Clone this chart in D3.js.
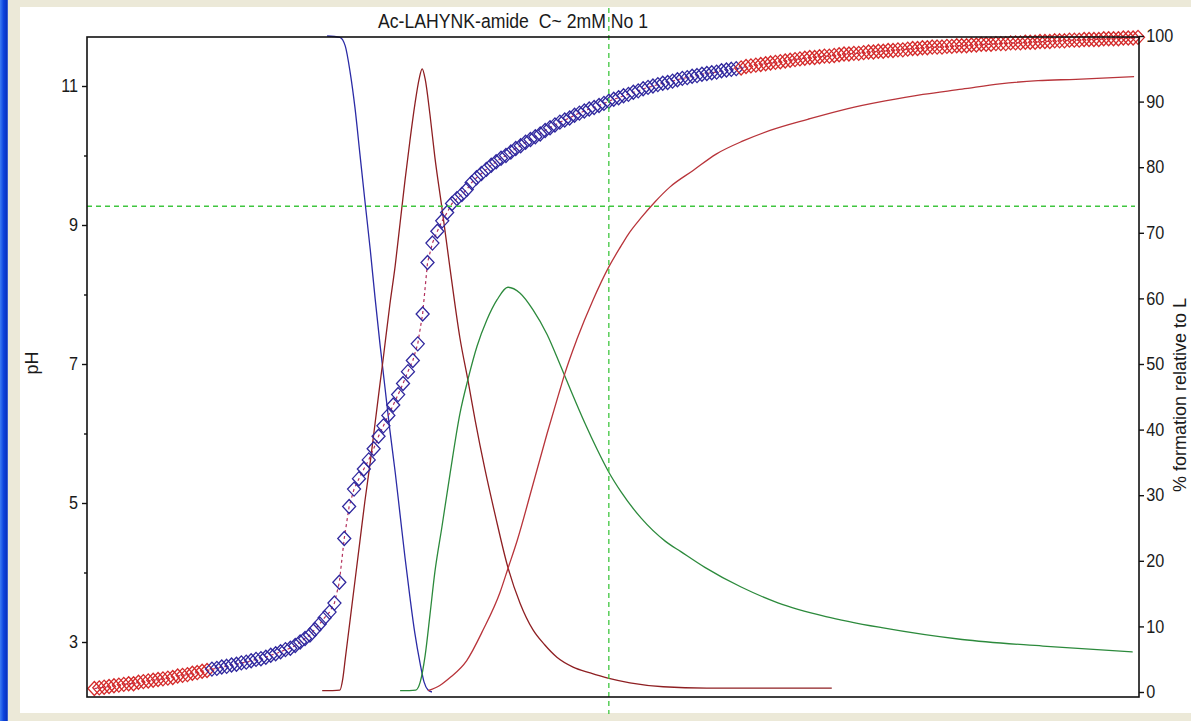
<!DOCTYPE html>
<html>
<head>
<meta charset="utf-8">
<script src="https://cdn.jsdelivr.net/npm/d3@7"></script>
<style>
    html, body { margin: 0; padding: 0; background: #ece9d8; }
    svg { display: block; font-family: "Liberation Sans", Arial, sans-serif; }
</style>
</head>
<body>
<svg id="chart" width="1191" height="721"></svg>
<script>
// titration points (point number = position along the titration), measured pH
const pHValues = [
    2.33, 2.34, 2.35, 2.36, 2.37, 2.38, 2.39, 2.40, 2.40, 2.42,
    2.43, 2.44, 2.45, 2.46, 2.47, 2.48, 2.49, 2.51, 2.52, 2.53,
    2.55, 2.56, 2.58, 2.59, 2.61, 2.62, 2.64, 2.65, 2.67, 2.68,
    2.70, 2.71, 2.73, 2.75, 2.76, 2.78, 2.81, 2.83, 2.86, 2.89,
    2.91, 2.95, 3.00, 3.05, 3.10, 3.18, 3.26, 3.35, 3.43, 3.56,
    3.86, 4.49, 4.95, 5.20, 5.35, 5.49, 5.62, 5.78, 5.96, 6.11,
    6.26, 6.41, 6.56, 6.72, 6.89, 7.05, 7.29, 7.72, 8.46, 8.74,
    8.91, 9.06, 9.18, 9.31, 9.38, 9.44, 9.51, 9.61, 9.68, 9.74,
    9.80, 9.86, 9.91, 9.96, 10.00, 10.05, 10.10, 10.14, 10.19, 10.23,
    10.27, 10.31, 10.36, 10.40, 10.44, 10.48, 10.51, 10.54, 10.58, 10.61,
    10.64, 10.67, 10.69, 10.72, 10.75, 10.78, 10.81, 10.83, 10.86, 10.88,
    10.91, 10.93, 10.96, 10.98, 11.00, 11.02, 11.04, 11.05, 11.07, 11.09,
    11.11, 11.12, 11.14, 11.15, 11.17, 11.18, 11.19, 11.20, 11.22, 11.23,
    11.24, 11.25, 11.26, 11.28, 11.29, 11.30, 11.31, 11.32, 11.33, 11.34,
    11.35, 11.36, 11.37, 11.38, 11.39, 11.40, 11.41, 11.41, 11.42, 11.43,
    11.43, 11.44, 11.45, 11.46, 11.46, 11.47, 11.47, 11.48, 11.49, 11.49,
    11.50, 11.50, 11.51, 11.51, 11.52, 11.52, 11.53, 11.54, 11.54, 11.55,
    11.55, 11.56, 11.56, 11.56, 11.57, 11.57, 11.58, 11.58, 11.58, 11.59,
    11.59, 11.60, 11.60, 11.60, 11.61, 11.61, 11.61, 11.62, 11.62, 11.62,
    11.63, 11.63, 11.63, 11.64, 11.64, 11.64, 11.65, 11.65, 11.65, 11.66,
    11.66, 11.66, 11.67, 11.67, 11.67, 11.67, 11.68, 11.68, 11.68, 11.68,
    11.69, 11.69, 11.69, 11.70
];
// points used in the refinement (drawn blue), the rest red
const fitFirst = 24, fitLast = 131;

// species distribution, % formation relative to L
const volLH3 = [47.5, 50.1, 51.2, 52.2, 53.2, 54.2, 55.2, 56.3, 57.3, 58.3, 59.3, 60.3, 61.4, 62.4, 63.4, 64.4, 65.4, 66.5, 67.3, 68.1, 68.9];
const pctLH3 = [100, 99.8, 98.5, 94.5, 89, 82, 75, 67.5, 60, 53, 46.5, 40, 33.5, 27, 20.5, 14.5, 9, 4.3, 1.5, 0.3, 0];

const volLH2 = [46.5, 50.1, 50.7, 51.2, 52.2, 53.2, 54.2, 55.2, 56.3, 57.3, 58.3, 58.9, 60.3, 61.4, 62.4, 63.4, 64.4, 65.4, 66.3, 66.9,
    67.5, 68.5, 69.5, 70.9, 72.6, 74.6, 76.3, 77.7, 79.7, 81.8, 84.4, 86.9, 89.5, 91.9, 94.4, 97.7, 101.2, 104.8, 109.3, 116.1, 125.0, 150.5];
const pctLH2 = [0.2, 0.3, 2, 5, 11, 17, 23, 29, 35, 41, 47, 50.5, 59, 65, 71.5, 78, 84, 89.5, 93.5, 95,
    93.5, 88, 81.5, 74, 64.5, 54, 47.3, 41.5, 34, 27, 19, 13.5, 9.5, 7.2, 5.3, 3.8, 2.9, 2.1, 1.4, 0.8, 0.6, 0.6];

const volLH = [62.4, 65.6, 66.5, 67.5, 68.5, 69.5, 70.9, 72.6, 74.6, 76.3, 78.1, 80.1, 82.2, 84.4, 86.9, 89.5, 92.4,
    95.0, 97.5, 100.1, 102.6, 105.0, 107.5, 111.6, 116.5, 119.7, 124.6, 132.0, 139.5, 149.3, 160.7, 177.1, 193.6, 211.9];
const pctLH = [0.2, 0.3, 1.5, 5.5, 11.8, 18.3, 25, 33.3, 42.4, 47.8, 52.7, 56.7, 59.8, 61.7, 60.8, 58.3, 54.5,
    50, 45.5, 41, 37, 33.5, 30.5, 26.5, 23, 21.4, 19, 16, 13.6, 11.5, 9.8, 8, 7.0, 6.1];

const volL = [68.1, 70.5, 72.6, 76.0, 79.3, 82.8, 84.4, 86.3, 89.5, 92.4, 95.0, 96.0, 98.5, 101.8, 105.0, 107.5, 108.9,
    111.6, 114.4, 117.5, 122.2, 126.9, 132.4, 137.9, 145.6, 153.6, 161.4, 169.1, 177.1, 184.8, 192.6, 200.3, 212.2];
const pctL = [0.2, 1, 2.2, 4.8, 9.4, 15.2, 18.8, 23.1, 31.6, 39.4, 46, 48.5, 53.8, 59.8, 64.8, 68, 69.7,
    72.3, 74.7, 77, 79.5, 82, 84, 85.6, 87.3, 88.9, 90.1, 91.1, 91.9, 92.7, 93.2, 93.4, 93.8];

const pHTicks = [3, 5, 7, 9, 11];
const pHMinorTicks = [4, 6, 8, 10];
const pctTicks = [0, 10, 20, 30, 40, 50, 60, 70, 80, 90, 100];

// cursor cross-hair
const cursorPH = 9.27, cursorVol = 105.0;

const title = "Ac-LAHYNK-amide  C~ 2mM No 1";


let svg = d3.select("#chart")

// window chrome
let defs = svg.append("defs")
let grad = defs.append("linearGradient").attr("id", "bar").attr("x1", 0).attr("x2", 1)
grad.append("stop").attr("offset", "0%").attr("stop-color", "#3d7cf2")
grad.append("stop").attr("offset", "45%").attr("stop-color", "#0d44de")
grad.append("stop").attr("offset", "85%").attr("stop-color", "#0a33bf")
grad.append("stop").attr("offset", "100%").attr("stop-color", "#5c7fdc")

svg.append("rect").attr("width", 1191).attr("height", 721).attr("fill", "#ece9d8")
svg.append("rect").attr("x", 0).attr("y", 0).attr("width", 8).attr("height", 721).attr("fill", "url(#bar)")
svg.append("rect").attr("x", 20).attr("y", 7).attr("width", 1171).attr("height", 706).attr("fill", "#ffffff")

let plotLeft = 87, plotRight = 1139, plotTop = 37, plotBottom = 697

let x = d3.scaleLinear()
    .domain([-1.5, 213.2])
    .range([plotLeft, plotRight])

let yPH = d3.scaleLinear()
    .domain([3, 11])
    .range([642, 86])

let yPct = d3.scaleLinear()
    .domain([0, 100])
    .range([692, 36])

// species curves
let speciesLine = d3.line()
    .x(d => x(d[0]))
    .y(d => yPct(d[1]))
    .curve(d3.curveMonotoneX)

let species = [
    { vol: volLH3, pct: pctLH3, color: "#2b2ba6" },
    { vol: volLH2, pct: pctLH2, color: "#8e1f22" },
    { vol: volLH, pct: pctLH, color: "#2c8a3c" },
    { vol: volL, pct: pctL, color: "#b8343a" }
]

svg.append("g").selectAll("path").data(species)
    .enter().append("path")
    .attr("d", s => speciesLine(d3.zip(s.vol, s.pct)))
    .attr("fill", "none")
    .attr("stroke", s => s.color)
    .attr("stroke-width", 1.3)

// calculated pH curve (dashed) and measured points
let points = pHValues.map((p, i) => ({ n: i, pH: p }))

svg.append("path")
    .attr("d", d3.line().x(d => x(d.n)).y(d => yPH(d.pH))(points))
    .attr("fill", "none")
    .attr("stroke", "#b3305c")
    .attr("stroke-width", 1.2)
    .attr("stroke-dasharray", "3,3")

svg.append("g").selectAll("path").data(points)
    .enter().append("path")
    .attr("transform", d => "translate(" + x(d.n) + "," + yPH(d.pH) + ")")
    .attr("d", "M0,-7L6.5,0L0,7L-6.5,0Z")
    .attr("fill", "none")
    .attr("stroke", d => (d.n >= fitFirst && d.n <= fitLast) ? "#30289e" : "#d42a2a")
    .attr("stroke-width", 1.3)

// cursor cross-hair
svg.append("line")
    .attr("x1", plotLeft).attr("x2", plotRight - 4)
    .attr("y1", yPH(cursorPH)).attr("y2", yPH(cursorPH))
    .attr("stroke", "#3fc63f").attr("stroke-width", 1.3)
    .attr("stroke-dasharray", "5,4")
svg.append("line")
    .attr("x1", x(cursorVol)).attr("x2", x(cursorVol))
    .attr("y1", 8).attr("y2", 714)
    .attr("stroke", "#3fc63f").attr("stroke-width", 1.3)
    .attr("stroke-dasharray", "5,4")

// frame
svg.append("rect")
    .attr("x", plotLeft).attr("y", plotTop)
    .attr("width", plotRight - plotLeft).attr("height", plotBottom - plotTop)
    .attr("fill", "none")
    .attr("stroke", "#111")
    .attr("stroke-width", 1.6)

// axes
let leftAxis = svg.append("g")
    .attr("transform", "translate(" + plotLeft + ",0)")
    .call(d3.axisLeft(yPH).tickValues(pHTicks).tickSize(5).tickPadding(5).tickFormat(d3.format("d")))
leftAxis.append("g")
    .call(d3.axisLeft(yPH).tickValues(pHMinorTicks).tickSize(3).tickFormat(""))

let rightAxis = svg.append("g")
    .attr("transform", "translate(" + plotRight + ",0)")
    .call(d3.axisRight(yPct).tickValues(pctTicks).tickSize(5).tickPadding(3).tickFormat(d3.format("d")))

svg.selectAll(".domain").remove()
svg.selectAll(".tick line").attr("stroke", "#111").attr("stroke-width", 1.4)
svg.selectAll(".tick text")
    .attr("fill", "#1a1a1a")
    .style("font-size", "18px")
    .style("font-family", "'Liberation Sans', Arial, sans-serif")
    .attr("transform", "scale(0.9,1)")

// title and axis labels
svg.append("text")
    .attr("x", 378).attr("y", 28)
    .attr("textLength", 270)
    .attr("lengthAdjust", "spacingAndGlyphs")
    .style("white-space", "pre")
    .style("font-size", "20px")
    .attr("fill", "#1a1a1a")
    .text(title)

svg.append("text")
    .attr("transform", "translate(38,363) rotate(-90)")
    .style("text-anchor", "middle")
    .style("font-size", "18px")
    .attr("fill", "#1a1a1a")
    .text("pH")

svg.append("text")
    .attr("transform", "translate(1186,395) rotate(-90)")
    .style("text-anchor", "middle")
    .style("font-size", "18px")
    .attr("fill", "#1a1a1a")
    .text("% formation relative to L")
</script>
</body>
</html>
